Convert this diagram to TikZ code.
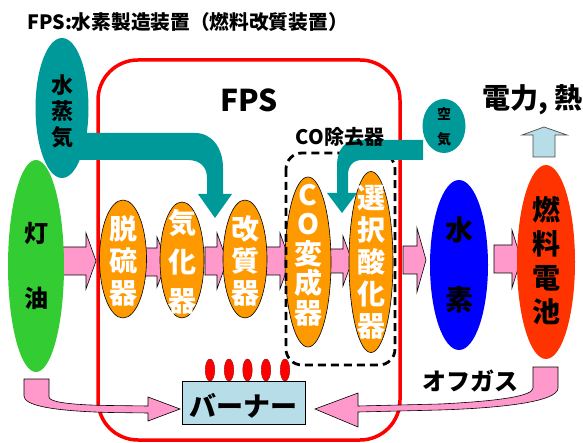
\documentclass[tikz,border=0pt]{standalone}
\usepackage{fontspec}
\setmainfont{Noto Sans CJK JP}
\usetikzlibrary{shapes.geometric}
\definecolor{orng}{HTML}{FF9900}
\definecolor{tealc}{HTML}{009999}
\definecolor{grn}{HTML}{33CC33}
\definecolor{blu}{HTML}{0000FF}
\definecolor{fcred}{HTML}{FF3300}
\definecolor{pnk}{HTML}{FF99CC}
\definecolor{lblue}{HTML}{B7DEE8}
\definecolor{rd}{HTML}{FF0000}
\tikzset{
  oval/.style={ellipse, inner sep=0pt, outer sep=0pt},
  unit/.style={oval, fill=orng, draw=black, line width=0.6pt},
  vtext/.style={inner sep=0pt, align=center, font=\fontsize{28}{#1}\selectfont\bfseries},
  wtext/.style={vtext=#1, text=white},
  pinkar/.style={fill=pnk, draw=black, line width=0.6pt, line join=miter},
  tealar/.style={fill=tealc},
  flame/.style={oval, fill=rd, draw=red!60!black, line width=0.4pt, minimum width=9.5pt, minimum height=22pt}
}
\newcommand{\pinkarrowshape}[6]{%
  \draw[pinkar] (#1,#4-#5) -- (#2,#4-#5) -- (#2,#4-#6) -- (#3,#4) -- (#2,#4+#6) -- (#2,#4+#5) -- (#1,#4+#5) -- cycle;}
\begin{document}
\begin{tikzpicture}[x=1pt,y=-1pt]
\useasboundingbox (0,0) rectangle (583,443);

% title
\node[anchor=west, inner sep=0pt, font=\fontsize{19.7}{20}\selectfont\bfseries] (title) at (27,22) {FPS:水素製造装置（燃料改質装置）};

% FPS frame
\draw[rd, line width=3.5pt, rounded corners=40pt] (98,60) rectangle (400,440);
\node[inner sep=0pt, font=\fontsize{30}{30}\selectfont\bfseries] (fps) at (249,100) {FPS};

% straight pink arrows
\pinkarrowshape{60}{86}{96}{261}{14}{28}
\pinkarrowshape{144}{157}{167}{262}{14}{25}
\pinkarrowshape{205}{217}{227}{261}{14}{28}
\pinkarrowshape{266}{280}{290}{261}{14}{28}
\pinkarrowshape{330}{343}{352}{261}{12}{25}
\pinkarrowshape{403}{417}{426}{260}{14}{32}
\pinkarrowshape{494}{512}{521}{259}{14}{29}

% steam
\node[oval, fill=tealc, minimum width=53pt, minimum height=140pt] (steam) at (62,108) {};
\fill[tealar] (70,133) -- (195,133) .. controls (212,133) and (223,148) .. (223,168) -- (223,194) -- (232,194) -- (215,218) -- (198,194) -- (207,194) -- (207,178) .. controls (207,167) and (200,160) .. (188,160) -- (70,160) -- cycle;
\node[vtext=26, font=\fontsize{22}{26}\selectfont\bfseries] (steamT) at (62,111) {水\\蒸\\気};

% kerosene
\node[oval, fill=grn, minimum width=56pt, minimum height=212pt] (ker) at (36,266) {};
\node[inner sep=0pt, align=center, font=\fontsize{24}{65}\selectfont\bfseries] (kerT) at (36,266) {灯\\油};

% process units
\node[unit, minimum width=47pt, minimum height=118pt] (des) at (123,259) {};
\node[unit, minimum width=44pt, minimum height=116pt] (gas) at (182,260) {};
\node[unit, minimum width=44pt, minimum height=118pt] (ref) at (245,259) {};
\node[unit, minimum width=46pt, minimum height=170pt] (shift) at (308,262) {};
\node[unit, minimum width=44pt, minimum height=181pt] (prox) at (371,262) {};
\node[wtext=32] (desT) at (123,261) {脱\\硫\\器};
\node[wtext=39] (gasT) at (182,262) {気\\化\\器};
\node[wtext=32] (refT) at (245,261) {改\\質\\器};
\node[wtext=29.5] (shiftT) at (308,255) {C\\O\\変\\成\\器};
\node[wtext=32] (proxT) at (371,262) {選\\択\\酸\\化\\器};

% CO remover box
\draw[black, line width=2.8pt, dash pattern=on 8pt off 5pt, rounded corners=16pt] (286,153) rectangle (395,365);

% air
\fill[tealar] (423,140) -- (357,140) .. controls (345,140) and (337,150) .. (337,165) -- (337,193) -- (327,193) -- (342,213) -- (357,193) -- (348,193) -- (348,175) .. controls (348,166) and (353,160) .. (362,160) -- (423,160) -- cycle;
\node[oval, fill=tealc, minimum width=43pt, minimum height=54pt] (air) at (444,126) {};
\node[inner sep=0pt, align=center, font=\fontsize{14}{25}\selectfont\bfseries] (airT) at (444,127) {空\\気};
\node[inner sep=0pt, font=\fontsize{20}{20}\selectfont\bfseries] (cor) at (340,137) {CO除去器};

% hydrogen and fuel cell
\node[oval, fill=blu, minimum width=58pt, minimum height=170pt] (h2) at (459,265) {};
\node[inner sep=0pt, align=center, font=\fontsize{28}{70}\selectfont\bfseries] (h2T) at (459,265) {水\\素};
\node[oval, fill=fcred, minimum width=58pt, minimum height=194pt] (fc) at (546,262) {};
\node[vtext=34] (fcT) at (546,261) {燃\\料\\電\\池};

% power & heat
\draw[fill=lblue, draw=black!70, line width=0.7pt, line join=miter] (533,157) -- (533,135) -- (522,135) -- (544,127) -- (567,135) -- (555,135) -- (555,157) -- cycle;
\node[anchor=west, inner sep=0pt, font=\fontsize{28}{28}\selectfont\bfseries] (power) at (482,100) {電力, 熱};

% burner
\node[draw=black, fill=lblue, line width=0.8pt, minimum width=123pt, minimum height=43pt, inner sep=0pt] (burner) at (243.5,402.5) {};
\node[inner sep=0pt, font=\fontsize{27}{27}\selectfont\bfseries] (burnerT) at (243.5,406) {バーナー};
\foreach \fx [count=\i] in {210,229,247.5,266,285} {
  \node[flame] (fl\i) at (\fx,370) {};
}

% curved pink arrows to burner
\draw[pinkar] (24,379) -- (49,379) -- (49,397) .. controls (49,402) and (70,405) .. (110,405.5) -- (148,406) -- (148,397) -- (180,409) -- (148,421) -- (148,413) -- (110,412.5) .. controls (50,411) and (24,405) .. (24,396) -- cycle;
\draw[pinkar] (558,367) -- (558,388) .. controls (558,402) and (500,408) .. (440,410) -- (358,412) -- (358,427) -- (315,409) -- (358,393) -- (358,406) -- (440,404) .. controls (500,401) and (533,396) .. (533,388) -- (533,367) -- cycle;
\node[inner sep=0pt, font=\fontsize{24}{24}\selectfont\bfseries] (offgas) at (470,381) {オフガス};
\end{tikzpicture}
\end{document}
